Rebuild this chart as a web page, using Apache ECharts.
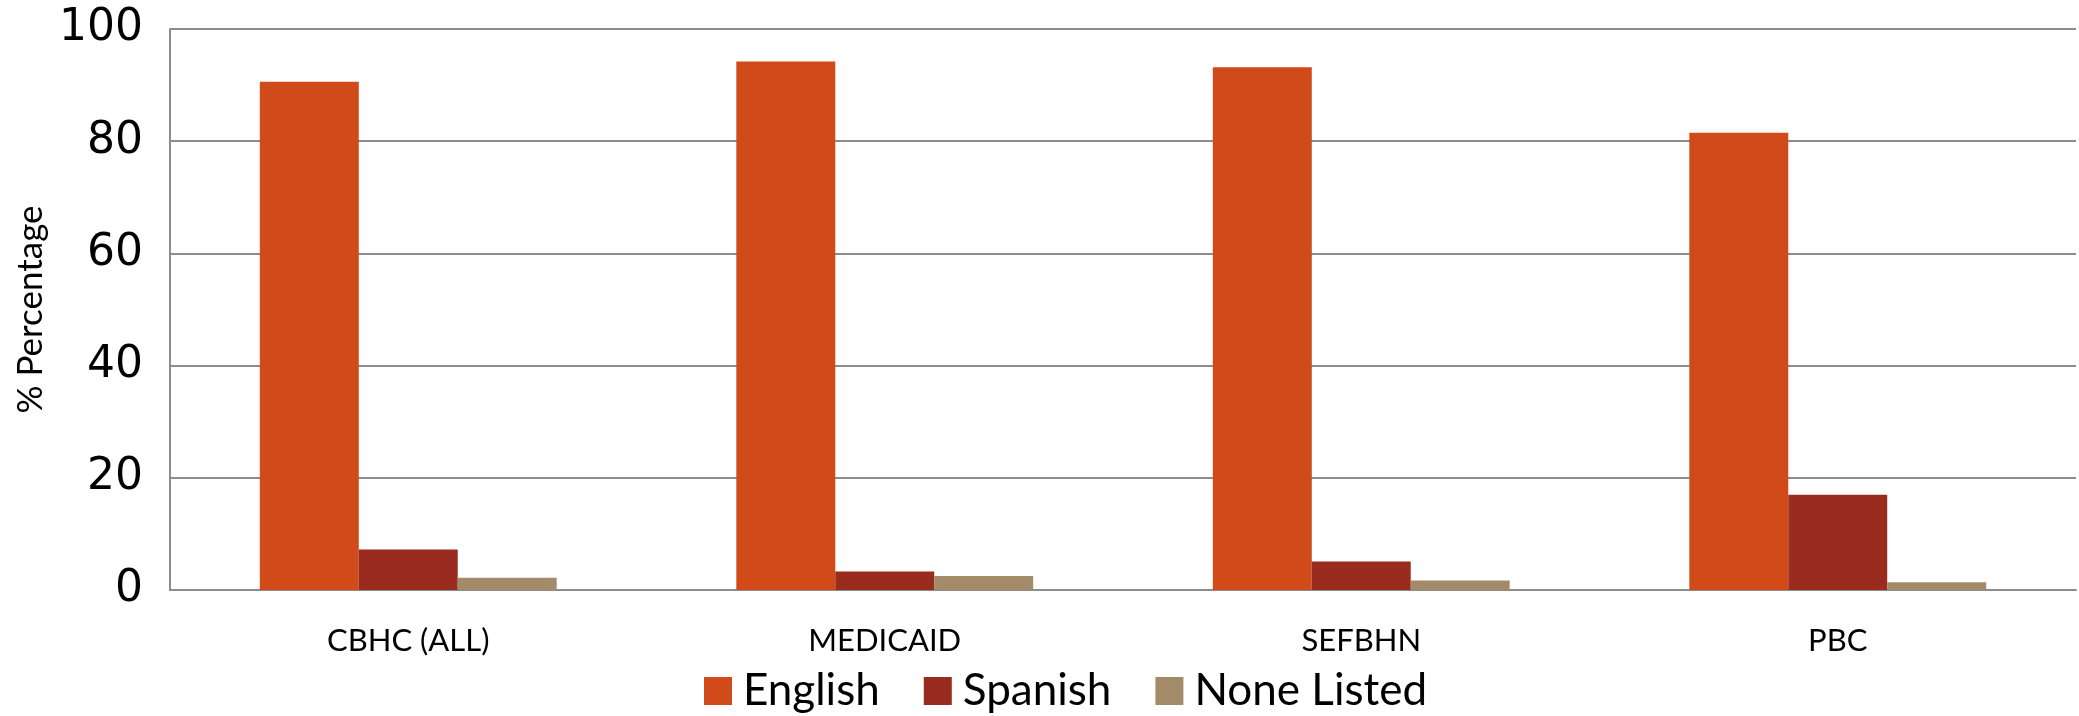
<!DOCTYPE html>
<html><head><meta charset="utf-8">
<script src="https://cdn.jsdelivr.net/npm/echarts@6/dist/echarts.min.js"></script>
<style>html,body{margin:0;padding:0;background:#fff}#c{width:2079px;height:716px}</style>
</head><body><div id="c"></div>
<script>
const categories = ['CBHC (ALL)', 'MEDICAID', 'SEFBHN', 'PBC'];
const seriesNames = ['English', 'Spanish', 'None Listed'];
const english = [90.6, 94.2, 93.2, 81.5];
const spanish = [7.2, 3.3, 5.1, 17.0];
const noneListed = [2.2, 2.5, 1.7, 1.4];
const yTicks = [0, 20, 40, 60, 80, 100];
const colors = ['#D14A19', '#992B1F', '#A38B6A'];

const chart = echarts.init(document.getElementById('c'), null, {renderer: 'canvas'});
const values = [english, spanish, noneListed];
chart.setOption({
  animation: false,
  backgroundColor: '#fff',
  color: colors,
  grid: {left: 170, right: 3, top: 29, bottom: 126, containLabel: false},
  legend: {
    data: seriesNames, left: 699, top: 664, itemWidth: 28, itemHeight: 28, itemGap: 44,
    icon: 'rect',
    textStyle: {fontFamily: 'Lato', fontSize: 44, color: '#000', padding: [0,0,0,6]}
  },
  xAxis: {
    type: 'category', data: categories,
    axisLine: {show: true, lineStyle: {color: '#8c8c8c', width: 2}},
    axisTick: {show: false},
    axisLabel: {fontFamily: 'Lato', fontSize: 31, color: '#000', margin: 35}
  },
  yAxis: {
    type: 'value', min: yTicks[0], max: yTicks[yTicks.length-1], interval: 20,
    name: '% Percentage', nameLocation: 'middle', nameGap: 120,
    nameTextStyle: {fontFamily: 'Lato', fontSize: 35, color: '#000'},
    axisLine: {show: true, lineStyle: {color: '#8c8c8c', width: 2}},
    axisTick: {show: false},
    splitLine: {show: true, lineStyle: {color: '#8c8c8c', width: 2}},
    axisLabel: {fontFamily: 'DejaVu Sans', fontSize: 44, color: '#000', margin: 27}
  },
  series: seriesNames.map((n, i) => ({
    name: n, type: 'bar', data: values[i], barGap: 0, barCategoryGap: '37.7%',
    itemStyle: {color: colors[i]}
  }))
});
</script></body></html>
